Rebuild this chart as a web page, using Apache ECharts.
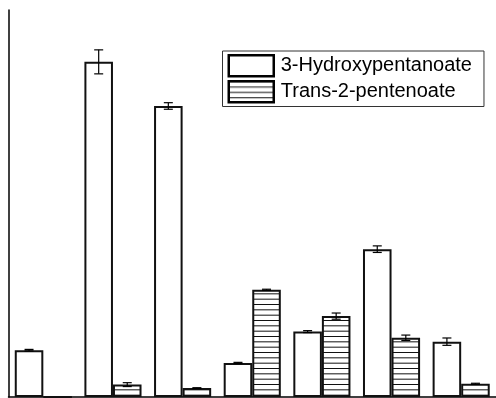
<!DOCTYPE html>
<html>
<head>
<meta charset="utf-8">
<script src="https://cdn.jsdelivr.net/npm/echarts@6/dist/echarts.min.js"></script>
<style>
  html, body { margin: 0; padding: 0; background: #fff; }
  #chart { width: 496px; height: 398px; }
</style>
</head>
<body>
<div id="chart"></div>
<script>
// Sample groups (unlabelled on the axis)
const categories = ['1', '2', '3', '4', '5', '6', '7'];

// Relative concentrations (axis runs 0..100)
const hydroxyValues = [12.1, 86.6, 75.2, 8.8, 16.9, 38.2, 14.3];
const hydroxyErrors = [0.2, 3.1, 0.85, 0.15, 0.25, 0.85, 0.95];

const pentenoateValues = [0, 3.2, 2.3, 27.7, 20.9, 15.3, 3.4];
const pentenoateErrors = [0, 0.5, 0.1, 0.15, 0.8, 0.7, 0.15];

const seriesNames = ['3-Hydroxypentanoate', 'Trans-2-pentenoate'];

// Horizontal hatching used for the second series
function makeHatch() {
  const c = document.createElement('canvas');
  c.width = 4;
  c.height = 16;
  const ctx = c.getContext('2d');
  ctx.fillStyle = '#ffffff';
  ctx.fillRect(0, 0, 4, 16);
  ctx.fillStyle = '#111111';
  ctx.fillRect(0, 0, 4, 1);
  ctx.fillRect(0, 5.33, 4, 1);
  ctx.fillRect(0, 10.67, 4, 1);
  return c;
}
const hatch = { image: makeHatch(), repeat: 'repeat' };

const CATEGORY_GAP = 0.18;

function errorData(values, errors) {
  const out = [];
  values.forEach((v, i) => {
    if (errors[i] > 0) out.push([i, v - errors[i], v + errors[i]]);
  });
  return out;
}

function errorRenderer(side) {
  return function (params, api) {
    const idx = api.value(0);
    const lo = api.coord([idx, api.value(1)]);
    const hi = api.coord([idx, api.value(2)]);
    const band = api.size([1, 0])[0];
    const cx = lo[0] + side * band * (1 - CATEGORY_GAP) / 4;
    const cap = 4.5;
    const style = { stroke: '#000', lineWidth: 1.2 };
    return {
      type: 'group',
      children: [
        { type: 'line', shape: { x1: cx, y1: lo[1], x2: cx, y2: hi[1] }, style },
        { type: 'line', shape: { x1: cx - cap, y1: lo[1], x2: cx + cap, y2: lo[1] }, style },
        { type: 'line', shape: { x1: cx - cap, y1: hi[1], x2: cx + cap, y2: hi[1] }, style }
      ]
    };
  };
}

const chart = echarts.init(document.getElementById('chart'), null, { renderer: 'canvas' });

chart.setOption({
  animation: false,
  backgroundColor: '#ffffff',
  grid: { left: 8.5, right: -2, top: 10, bottom: 1, containLabel: false },
  legend: {
    data: seriesNames,
    icon: 'rect',
    orient: 'vertical',
    left: 222.5,
    top: 51,
    padding: [3, 12, 3, 5],
    itemGap: 2.5,
    itemWidth: 45,
    itemHeight: 21,
    itemStyle: { borderWidth: 2.5, borderColor: '#000' },
    borderColor: '#333',
    borderWidth: 1,
    backgroundColor: '#fff',
    selectedMode: false,
    textStyle: {
      fontFamily: '"Liberation Sans", Arial, sans-serif',
      fontSize: 20,
      color: '#000',
      padding: [0, 0, 0, 2],
      lineHeight: 22
    }
  },
  xAxis: {
    type: 'category',
    data: categories,
    axisLine: { show: true, lineStyle: { color: '#000', width: 1.5 } },
    axisTick: { show: false },
    axisLabel: { show: false },
    splitLine: { show: false }
  },
  yAxis: {
    type: 'value',
    min: 0,
    max: 100,
    axisLine: { show: true, lineStyle: { color: '#000', width: 1.5 } },
    axisTick: { show: false },
    axisLabel: { show: false },
    splitLine: { show: false }
  },
  series: [
    {
      name: seriesNames[0],
      type: 'bar',
      data: hydroxyValues,
      barGap: '0%',
      barCategoryGap: (CATEGORY_GAP * 100) + '%',
      itemStyle: { color: '#ffffff', borderColor: '#111', borderWidth: 2 }
    },
    {
      name: seriesNames[1],
      type: 'bar',
      data: pentenoateValues,
      barGap: '0%',
      barCategoryGap: (CATEGORY_GAP * 100) + '%',
      itemStyle: { color: hatch, borderColor: '#111', borderWidth: 2 }
    },
    {
      type: 'custom',
      z: 5,
      renderItem: errorRenderer(-1),
      data: errorData(hydroxyValues, hydroxyErrors),
      encode: { x: 0, y: [1, 2] }
    },
    {
      type: 'custom',
      z: 5,
      renderItem: errorRenderer(1),
      data: errorData(pentenoateValues, pentenoateErrors),
      encode: { x: 0, y: [1, 2] }
    }
  ]
});
</script>
</body>
</html>
